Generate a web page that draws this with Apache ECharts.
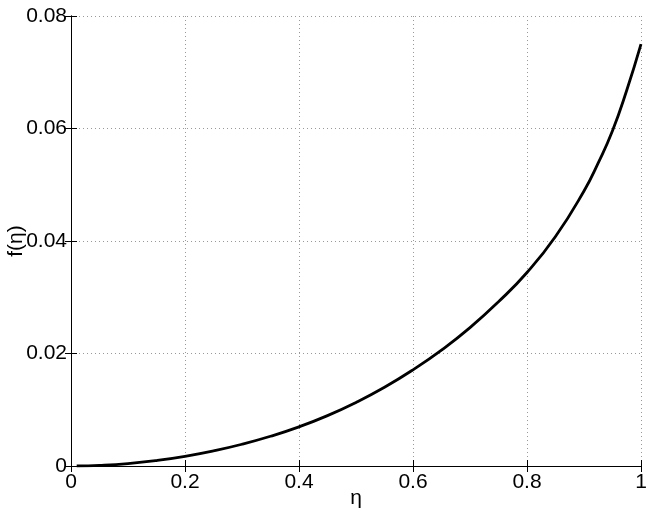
<!DOCTYPE html>
<html>
<head>
<meta charset="utf-8">
<script src="https://cdn.jsdelivr.net/npm/echarts@6/dist/echarts.min.js"></script>
<style>
  html, body { margin: 0; padding: 0; background: #fff; }
  #chart { width: 654px; height: 515px; }
</style>
</head>
<body>
<div id="chart"></div>
<script>
// values
const eta = [0.01, 0.05, 0.1, 0.15, 0.2, 0.25, 0.3, 0.35, 0.4, 0.45, 0.5,
             0.55, 0.6, 0.65, 0.7, 0.75, 0.8, 0.85, 0.9, 0.925, 0.95, 0.975, 1.0];
const fEta = [0.0, 0.00011, 0.00043, 0.00097, 0.00172, 0.00269, 0.00387, 0.00529, 0.00696, 0.00895, 0.0113,
              0.0140, 0.0171, 0.0206, 0.0246, 0.0292, 0.0344, 0.0408, 0.0489, 0.0539, 0.0596, 0.0668, 0.075];
const xTicks = [0, 0.2, 0.4, 0.6, 0.8, 1];
const yTicks = [0, 0.02, 0.04, 0.06, 0.08];

const font = 'Liberation Sans, Arial, Helvetica, sans-serif';
const chart = echarts.init(document.getElementById('chart'));

const boxAxis = {
  axisLine: { show: true, lineStyle: { color: '#000', width: 1 } },
  axisTick: { show: true, inside: true, length: 6, lineStyle: { color: '#000' } }
};

chart.setOption({
  animation: false,
  grid: { left: 71, right: 13, top: 16, bottom: 49, containLabel: false, outerBoundsMode: 'none' },
  xAxis: [{
    type: 'value', min: 0, max: 1, interval: 0.2,
    name: 'η', nameLocation: 'middle', nameGap: 22, nameMoveOverlap: false,
    nameTextStyle: { color: '#000', fontSize: 21, fontFamily: font },
    ...boxAxis,
    axisLabel: { color: '#000', fontSize: 21, fontFamily: font, margin: 6,
      formatter: v => xTicks.includes(+v.toFixed(1)) ? String(+v.toFixed(1)) : '' },
    splitLine: { show: true, lineStyle: { color: '#999', type: [1, 3], width: 1 } }
  }, {
    type: 'value', min: 0, max: 1, interval: 0.2, position: 'top',
    ...boxAxis, axisLabel: { show: false }, splitLine: { show: false }
  }],
  yAxis: [{
    type: 'value', min: 0, max: 0.08, interval: 0.02,
    name: 'f(η)', nameLocation: 'middle', nameGap: 44, nameRotate: 90, nameMoveOverlap: false,
    nameTextStyle: { color: '#000', fontSize: 21, fontFamily: font },
    ...boxAxis,
    axisLabel: { color: '#000', fontSize: 21, fontFamily: font, margin: 4,
      formatter: v => yTicks.includes(+v.toFixed(2)) ? String(+v.toFixed(2)) : '' },
    splitLine: { show: true, lineStyle: { color: '#999', type: [1, 3], width: 1 } }
  }, {
    type: 'value', min: 0, max: 0.08, interval: 0.02, position: 'right',
    ...boxAxis, axisLabel: { show: false }, splitLine: { show: false }
  }],
  series: [{
    type: 'line',
    data: eta.map((x, i) => [x, fEta[i]]),
    smooth: 0.5,
    showSymbol: false,
    lineStyle: { color: '#000', width: 2.8 },
    z: 5
  }]
});
</script>
</body>
</html>
